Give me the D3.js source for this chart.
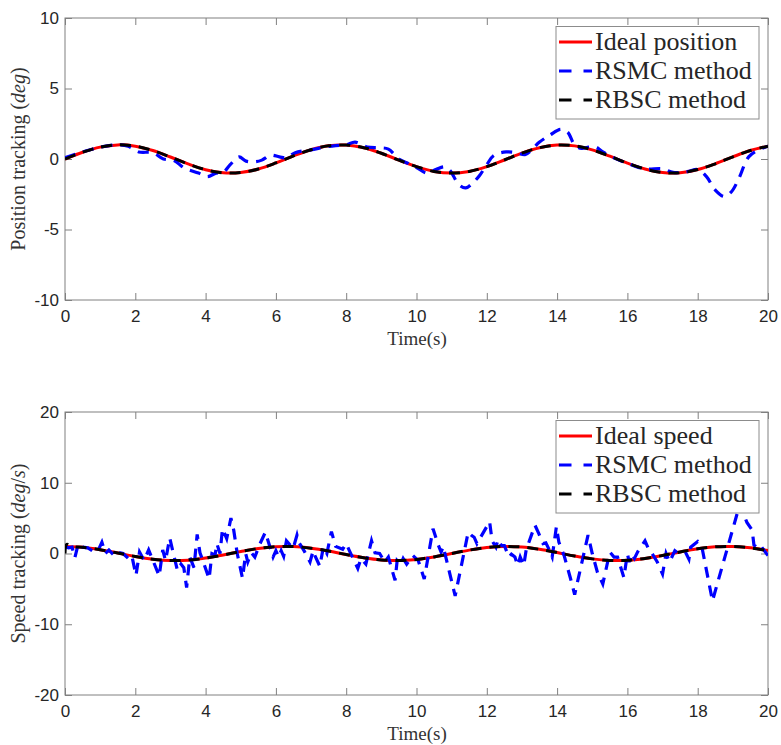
<!DOCTYPE html>
<html>
<head>
<meta charset="utf-8">
<script src="https://cdn.jsdelivr.net/npm/d3@7"></script>
<style>
body{margin:0;background:#fff}
</style>
</head>
<body>
<svg id="chart" width="781" height="745"></svg>
<script>
// time grid for the ideal curves
const T_IDEAL = d3.range(0, 20.01, 0.5);
const IDEAL_POS = [0,0.48,0.84,1.0,0.91,0.6,0.14,-0.35,-0.76,-0.98,-0.96,-0.71,-0.28,0.22,0.66,0.94,0.99,0.8,0.41,-0.08,-0.54,-0.88,-1.0,-0.88,-0.54,-0.07,0.42,0.8,0.99,0.93,0.65,0.2,-0.29,-0.71,-0.96,-0.98,-0.75,-0.34,0.15,0.6,0.91];
const IDEAL_SPD = [1.0,0.88,0.54,0.07,-0.42,-0.8,-0.99,-0.94,-0.65,-0.21,0.28,0.71,0.96,0.98,0.75,0.35,-0.15,-0.6,-0.91,-1.0,-0.84,-0.48,0.0,0.48,0.84,1.0,0.91,0.59,0.14,-0.36,-0.76,-0.98,-0.96,-0.7,-0.28,0.22,0.66,0.94,0.99,0.8,0.41];

// RBSC follows the reference, with a small start jump on speed
const RBSC_POS_T = T_IDEAL;
const RBSC_POS = IDEAL_POS;
const RBSC_SPD_T = [0, 0.05, 0.2].concat(T_IDEAL.slice(1));
const RBSC_SPD = [0, 1.3, 0.98].concat(IDEAL_SPD.slice(1));

// RSMC position
const RSMC_POS_T = [0,0.5,1,1.5,1.8,2.1,2.5,2.8,3.1,3.4,3.8,4.05,4.3,4.5,4.7,4.95,5.15,5.4,5.6,5.85,6.1,6.3,6.55,7,7.4,7.7,8,8.25,8.6,8.95,9.2,9.5,9.75,10,10.3,10.55,10.8,10.95,11.2,11.4,11.6,11.8,12,12.2,12.55,12.85,13.1,13.5,13.8,14.1,14.3,14.5,14.7,14.9,15.1,15.3,15.6,16,16.5,17,17.3,17.7,18,18.25,18.5,18.75,18.95,19.15,19.45,19.7,20];
const RSMC_POS = [0.1,0.5,0.84,1.0,0.9,0.5,0.45,0.0,-0.1,-0.65,-1.0,-1.25,-1.0,-0.95,-0.4,0.15,-0.15,-0.2,-0.08,0.27,0.15,0.08,0.45,0.65,0.85,0.95,1.0,1.2,0.85,0.8,0.7,0.0,-0.3,-0.6,-1.0,-0.75,-0.56,-0.8,-1.8,-2.05,-1.7,-1.15,-0.4,0.25,0.5,0.45,0.32,1.2,1.7,2.1,1.9,1.0,0.75,0.85,0.85,0.5,0.1,-0.3,-0.7,-0.7,-0.95,-0.9,-0.75,-1.25,-2.2,-2.65,-2.35,-1.5,0.15,0.6,0.91];

// RSMC speed
const RSMC_SPD_T = [0,0.1,0.2,0.28,0.38,0.5,0.65,0.8,0.95,1.05,1.15,1.25,1.4,1.5,1.65,1.8,1.9,2.02,2.12,2.25,2.38,2.52,2.68,2.78,2.86,2.98,3.05,3.2,3.3,3.38,3.46,3.55,3.67,3.76,3.84,3.95,4.1,4.18,4.27,4.32,4.41,4.48,4.6,4.72,4.8,4.9,5.05,5.14,5.2,5.3,5.4,5.55,5.7,5.8,5.92,6.0,6.08,6.15,6.22,6.3,6.49,6.6,6.65,6.8,6.97,7.06,7.12,7.25,7.35,7.45,7.58,7.7,7.9,8.0,8.1,8.33,8.42,8.56,8.72,8.82,8.95,9.1,9.2,9.39,9.45,9.55,9.62,9.72,9.9,10.05,10.22,10.47,10.62,10.7,10.76,11.1,11.47,11.58,11.64,11.72,12.08,12.15,12.26,12.32,12.42,12.5,12.63,12.7,12.8,12.88,12.95,13.05,13.12,13.37,13.48,13.6,13.68,13.75,13.86,13.98,14.05,14.2,14.38,14.5,14.88,15.0,15.15,15.3,15.5,15.62,15.72,15.9,16.0,16.05,16.12,16.2,16.3,16.5,16.62,16.7,16.85,17.0,17.1,17.2,17.35,17.45,17.65,17.75,17.8,18.0,18.12,18.42,19.2,19.3,19.4,19.55,19.6,19.7,19.75,19.85,20];
const RSMC_SPD = [1.0,0.8,0.9,-0.6,1.4,0.9,0.8,0.3,0.5,1.6,0.0,0.5,-0.3,0.2,0.0,-0.7,-0.3,-3.1,0.2,-1.0,0.5,-1.2,-3.2,0.5,-1.0,2.2,0.7,-2.4,-1.5,-2.0,-4.8,-0.5,-2.0,2.7,0.1,-1.4,-3.6,0.0,-0.2,1.4,0.0,3.5,2.1,5.0,3.3,0.0,-3.5,0.0,-1.2,0.1,-0.5,1.4,3.0,1.4,-0.5,0.4,-0.5,0.4,-0.4,1.8,0.7,2.6,1.6,0.4,-1.2,0.4,-0.4,-1.8,0.9,0.0,3.1,1.0,0.6,1.4,0.3,-2.1,-0.7,-1.5,1.8,0.1,0.0,-1.2,-0.5,-3.8,-1.0,-1.5,-0.7,-1.5,-0.3,-1.0,-3.6,3.5,1.2,0.2,1.0,-6.0,3.0,2.5,2.3,1.4,4.5,1.8,0.9,2.0,1.1,1.1,-0.5,-0.1,-0.5,-1.7,-0.5,-1.7,0.5,4.0,2.8,1.4,1.5,0.8,-0.5,3.8,1.6,-0.3,-3.5,-5.8,2.6,0.0,-2.7,-4.3,0.2,-0.5,-0.5,-3.4,0.0,-1.2,0.0,-0.7,0.3,1.8,0.4,0.0,-1.2,-2.9,0.0,-1.2,0.4,0.0,0.2,-0.8,0.9,1.7,0.9,-6.7,7.0,5.6,4.4,3.3,1.2,0.8,0.4,0.7,-0.3];

const X_TICKS = [0,2,4,6,8,10,12,14,16,18,20];
const POS_TICKS = [-10,-5,0,5,10];
const SPD_TICKS = [-20,-10,0,10,20];

const left = 65, right = 768;
const svg = d3.select("#chart");
const x = d3.scaleLinear().domain([0, 20]).range([left, right]);

const zip = (ts, vs) => ts.map((t, i) => [t, vs[i]]);
const plain = d => String(d);   // hyphen minus like the original

function panel(cfg) {
  const y = d3.scaleLinear().domain(cfg.domain).range([cfg.bottom, cfg.top]);
  const g = svg.append("g");
  const clipId = "clip" + cfg.id;
  g.append("clipPath").attr("id", clipId)
    .append("rect").attr("x", left).attr("y", cfg.top)
    .attr("width", right - left).attr("height", cfg.bottom - cfg.top);

  // axes, ticks pointing inward
  const ax = [
    [d3.axisBottom(x).tickValues(X_TICKS).tickFormat(plain).tickPadding(10), `translate(0,${cfg.bottom})`],
    [d3.axisTop(x).tickValues(X_TICKS).tickFormat(""), `translate(0,${cfg.top})`],
    [d3.axisLeft(y).tickValues(cfg.ticks).tickFormat(plain).tickPadding(6), `translate(${left},0)`],
    [d3.axisRight(y).tickValues(cfg.ticks).tickFormat(""), `translate(${right},0)`]
  ];
  ax.forEach(([a, tr]) => {
    const ag = g.append("g").attr("transform", tr)
      .call(a.tickSizeInner(-7).tickSizeOuter(0));
    ag.select(".domain").remove();
    ag.selectAll("line").attr("stroke", "#808080");
    ag.selectAll("text").attr("fill", "#262626")
      .style("font-family", "'Liberation Sans', Arial, sans-serif")
      .style("font-size", "17px");
  });
  g.append("rect").attr("x", left).attr("y", cfg.top)
    .attr("width", right - left).attr("height", cfg.bottom - cfg.top)
    .attr("fill", "none").attr("stroke", "#808080").attr("stroke-width", 1);

  const lineSmooth = d3.line().x(d => x(d[0])).y(d => y(d[1])).curve(d3.curveCatmullRom);
  const lineRaw = d3.line().x(d => x(d[0])).y(d => y(d[1]));
  const plot = g.append("g").attr("clip-path", `url(#${clipId})`);

  plot.append("path").attr("d", lineSmooth(zip(T_IDEAL, cfg.ideal)))
    .attr("fill", "none").attr("stroke", "#ff0000").attr("stroke-width", 3);
  plot.append("path").attr("d", (cfg.rsmcSmooth ? lineSmooth : lineRaw)(zip(cfg.rsmcT, cfg.rsmc)))
    .attr("fill", "none").attr("stroke", "#0000ff").attr("stroke-width", 3.2)
    .attr("stroke-dasharray", "11,8");
  plot.append("path").attr("d", lineSmooth(zip(cfg.rbscT, cfg.rbsc)))
    .attr("fill", "none").attr("stroke", "#000000").attr("stroke-width", 3)
    .attr("stroke-dasharray", "11,8");

  // axis labels
  svg.append("text").attr("x", 417).attr("y", cfg.bottom + 45)
    .attr("text-anchor", "middle").attr("fill", "#333")
    .style("font-family", "'Liberation Serif', serif").style("font-size", "19px")
    .text("Time(s)");
  const yl = svg.append("text")
    .attr("transform", `translate(25,${(cfg.top + cfg.bottom) / 2}) rotate(-90)`)
    .attr("text-anchor", "middle").attr("fill", "#333")
    .style("font-family", "'Liberation Serif', serif").style("font-size", "20px");
  yl.append("tspan").text(cfg.ylabel + " (");
  cfg.unit.forEach(u => yl.append("tspan").style("font-style", u[1] ? "italic" : "normal").text(u[0]));
  yl.append("tspan").text(")");

  // legend
  const lg = svg.append("g");
  const lx = 556, ly = cfg.top + 8.5;
  lg.append("rect").attr("x", lx).attr("y", ly).attr("width", 203).attr("height", 92.5)
    .attr("fill", "#fff").attr("stroke", "#8c8c8c").attr("stroke-width", 1);
  const items = [
    [cfg.legendIdeal, "#ff0000", null],
    ["RSMC method", "#0000ff", "12.5,12"],
    ["RBSC method", "#000000", "12.5,12"]
  ];
  items.forEach((it, i) => {
    const cy = ly + 15.5 + i * 29;
    lg.append("line").attr("x1", 559).attr("x2", 592).attr("y1", cy).attr("y2", cy)
      .attr("stroke", it[1]).attr("stroke-width", 3)
      .attr("stroke-dasharray", it[2]);
    lg.append("text").attr("x", 595).attr("y", cy + 8)
      .attr("fill", "#262626")
      .style("font-family", "'Liberation Serif', serif").style("font-size", "26px")
      .text(it[0]);
  });
}

panel({
  id: 1, top: 18, bottom: 300, domain: [-10, 10], ticks: POS_TICKS,
  ideal: IDEAL_POS, rsmcT: RSMC_POS_T, rsmc: RSMC_POS, rsmcSmooth: true,
  rbscT: RBSC_POS_T, rbsc: RBSC_POS,
  ylabel: "Position tracking", unit: [["deg", true]], legendIdeal: "Ideal position"
});
panel({
  id: 2, top: 412, bottom: 695, domain: [-20, 20], ticks: SPD_TICKS,
  ideal: IDEAL_SPD, rsmcT: RSMC_SPD_T, rsmc: RSMC_SPD, rsmcSmooth: false,
  rbscT: RBSC_SPD_T, rbsc: RBSC_SPD,
  ylabel: "Speed tracking", unit: [["deg", true], ["/", false], ["s", true]], legendIdeal: "Ideal speed"
});
</script>
</body>
</html>
